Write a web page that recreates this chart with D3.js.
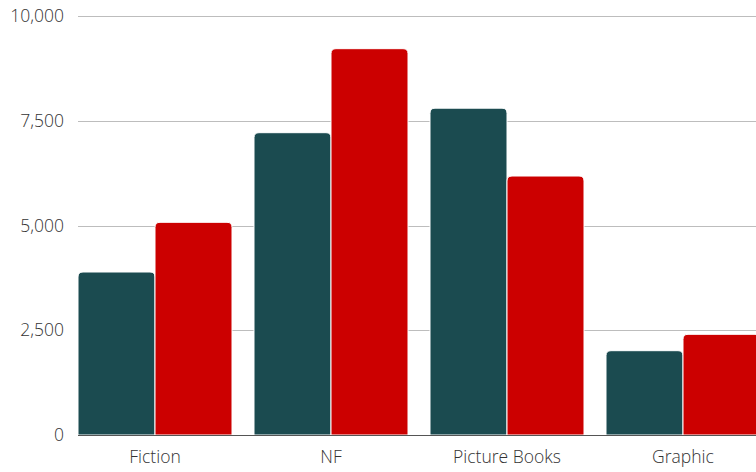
<!DOCTYPE html>
<html><head><meta charset="utf-8">
<script src="https://cdn.jsdelivr.net/npm/d3@7"></script>
<style>body{margin:0;background:#fff;} svg{display:block;font-family:"Open Sans",sans-serif;}</style>
</head><body>
<svg id="c" width="756" height="472"></svg>
<script>
const categories = ["Fiction", "NF", "Picture Books", "Graphic"];
const seriesNames = ["Series A", "Series B"];
const seriesA = [3890, 7215, 7800, 2012];
const seriesB = [5076, 9220, 6181, 2403];
const yTicks = [0, 2500, 5000, 7500, 10000];
const colors = ["#1b4b50", "#cc0000"];

(function () {
const svg = d3.select("#c");
const mLeft = 78, mTop = 16, mBottom = 435;
const x = d3.scaleBand().domain(categories).range([mLeft, 760]).paddingInner(0.125).paddingOuter(0);
const xs = d3.scaleBand().domain(seriesNames).range([0, x.bandwidth()]);
const y = d3.scaleLinear().domain([0, 10000]).range([mBottom, mTop]);

svg.append("g").selectAll("line").data(yTicks.filter(d => d > 0)).join("line")
  .attr("x1", mLeft).attr("x2", 756).attr("y1", d => Math.round(y(d)) + 0.5).attr("y2", d => Math.round(y(d)) + 0.5)
  .attr("stroke", "#bdbdbd").attr("stroke-width", 1);

svg.append("g").selectAll("text").data(yTicks).join("text")
  .attr("x", 64).attr("y", d => y(d)).attr("dy", "0.35em").attr("text-anchor", "end")
  .attr("font-size", 17.5).attr("font-weight", 300).attr("fill", "#333")
  .text(d => d3.format(",")(d));

const data = [];
categories.forEach((c, i) => {
  data.push({c, s: seriesNames[0], v: seriesA[i], col: colors[0]});
  data.push({c, s: seriesNames[1], v: seriesB[i], col: colors[1]});
});

function topRounded(x0, y0, w, h, r) {
  r = Math.min(r, h, w / 2);
  return `M${x0},${y0 + h}V${y0 + r}Q${x0},${y0} ${x0 + r},${y0}H${x0 + w - r}Q${x0 + w},${y0} ${x0 + w},${y0 + r}V${y0 + h}Z`;
}

svg.append("g").selectAll("path").data(data).join("path")
  .attr("d", d => {
    const x0 = x(d.c) + xs(d.s);
    const w = xs.bandwidth();
    return topRounded(x0, y(d.v), w, y(0) - y(d.v), 5);
  })
  .attr("fill", d => d.col)
  .attr("stroke", "#fff").attr("stroke-width", 1);

svg.append("line").attr("x1", mLeft).attr("x2", 756).attr("y1", Math.round(y(0)) + 0.5).attr("y2", Math.round(y(0)) + 0.5)
  .attr("stroke", "#555").attr("stroke-width", 1);

svg.append("g").selectAll("text").data(categories).join("text")
  .attr("x", d => x(d) + x.bandwidth() / 2).attr("y", 463).attr("text-anchor", "middle")
  .attr("font-size", 17.5).attr("font-weight", 300).attr("fill", "#333").text(d => d);
})();
</script>
</body></html>
